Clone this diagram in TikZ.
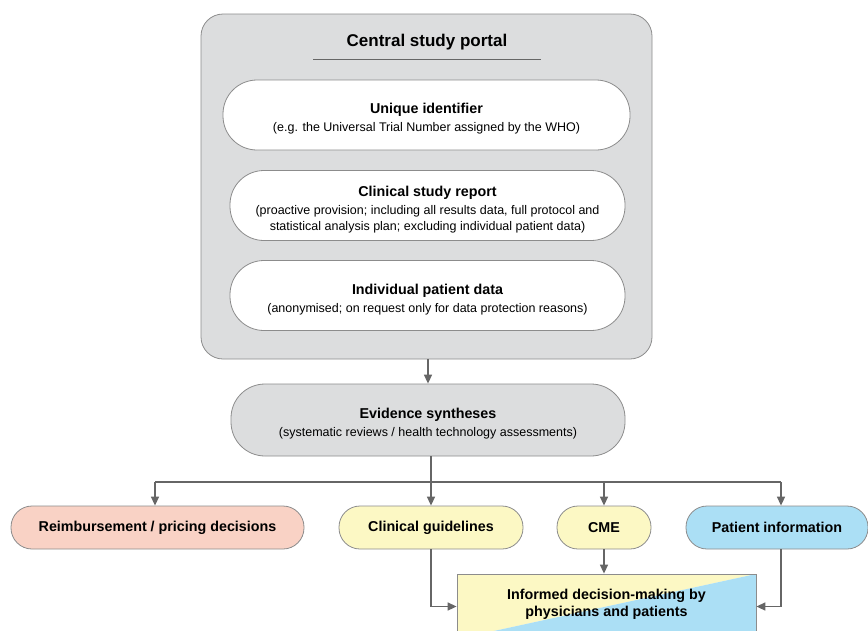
\documentclass[tikz,border=0pt]{standalone}
\usepackage{fontspec}
\setmainfont{Liberation Sans}
\usetikzlibrary{arrows.meta,calc}
\definecolor{boxgrey}{HTML}{DCDDDE}
\definecolor{edgegrey}{HTML}{8C8C8C}
\definecolor{arrgrey}{HTML}{666666}
\definecolor{salmon}{HTML}{F9D2C5}
\definecolor{paleyellow}{HTML}{FCF8C4}
\definecolor{paleblue}{HTML}{ABDFF5}
\newcommand{\ttl}{\fontsize{14.3}{17}\selectfont\bfseries}
\newcommand{\sub}{\fontsize{12.5}{16}\selectfont}
\newcommand{\hd}[1]{{\ttl\rule{0pt}{18.5pt}#1}}
\begin{document}
\begin{tikzpicture}[x=1pt,y=-1pt,
  pill/.style={draw=edgegrey, line width=0.8pt, rectangle, rounded corners=#1, inner sep=0pt, align=center, text=black},
  bigpill/.style={pill=34pt, minimum height=70pt, font=\sub},
  smallpill/.style={pill=21pt, minimum height=43pt, font=\ttl},
  conn/.style={draw=arrgrey, line width=1.5pt},
  arr/.style={conn, -{Triangle[length=9pt,width=8pt]}},
]
\useasboundingbox (0,0) rectangle (868,630);
\clip (0,0) rectangle (868,630);

% Central study portal
\node[pill=22pt, fill=boxgrey, minimum width=451pt, minimum height=345pt] (portal) at (426.5,186.5) {};
\node[font=\fontsize{17}{20}\selectfont\bfseries, inner sep=0pt] (ptitle) at (427,42) {Central study portal};
\coordinate (ulL) at (313,59);
\coordinate (ulR) at (541,59);
\draw[draw=arrgrey, line width=1pt] (ulL) -- (ulR);

\node[bigpill, fill=white, minimum width=407pt] (uid) at (426.5,115)
  {\hd{Unique identifier}\\[2pt](e.g. the Universal Trial Number assigned by the WHO)};
\node[bigpill, fill=white, minimum width=395pt] (csr) at (427.5,205.5)
  {\hd{Clinical study report}\\[2pt](proactive provision; including all results data, full protocol and\\statistical analysis plan; excluding individual patient data)};
\node[bigpill, fill=white, minimum width=395pt] (ipd) at (427.5,295.5)
  {\hd{Individual patient data}\\[2pt](anonymised; on request only for data protection reasons)};

% Evidence syntheses
\node[bigpill, fill=boxgrey, minimum width=394pt, minimum height=72pt] (evid) at (428,420)
  {\hd{Evidence syntheses}\\[2pt](systematic reviews / health technology assessments)};

\draw[arr] (portal.south -| evid.north) -- (evid.north);

% Bottom pills
\node[smallpill, fill=salmon, minimum width=293pt] (reimb) at (157.5,527.5) {Reimbursement / pricing decisions};
\node[smallpill, fill=paleyellow, minimum width=184pt] (guide) at (431,527.5) {Clinical guidelines};
\node[smallpill, fill=paleyellow, minimum width=94pt] (cme) at (604,527.5) {CME};
\node[smallpill, fill=paleblue, minimum width=182pt] (pinfo) at (777,527.5) {Patient information};

% Bus
\coordinate (bus) at (431,482);
\coordinate (busL) at (155,482);
\coordinate (busR) at (781,482);
\draw[conn] (evid.south -| bus) -- (bus);
\draw[conn] (busL) -- (busR);
\draw[arr] (busL) -- (busL |- reimb.north);
\draw[arr] (bus) -- (guide.north);
\draw[arr] (bus -| cme.north) -- (cme.north);
\draw[arr] (busR) -- (busR |- pinfo.north);

% Informed decision-making box
\node[draw=edgegrey, line width=0.8pt, minimum width=299pt, minimum height=65pt, inner sep=0pt, align=center, font=\ttl,
  path picture={
    \fill[paleyellow] (path picture bounding box.north west) -- (path picture bounding box.north east) -- (path picture bounding box.south west) -- cycle;
    \fill[paleblue] (path picture bounding box.north east) -- (path picture bounding box.south east) -- (path picture bounding box.south west) -- cycle;
  }] (inf) at (606.5,606.5)
  {Informed decision-making by\\physicians and patients\rule[-8pt]{0pt}{0pt}};

\draw[arr] (guide.south) |- (inf.west);
\draw[arr] (cme.south) -- (cme.south |- inf.north);
\draw[arr] (busR |- pinfo.south) |- (inf.east);
\end{tikzpicture}
\end{document}
